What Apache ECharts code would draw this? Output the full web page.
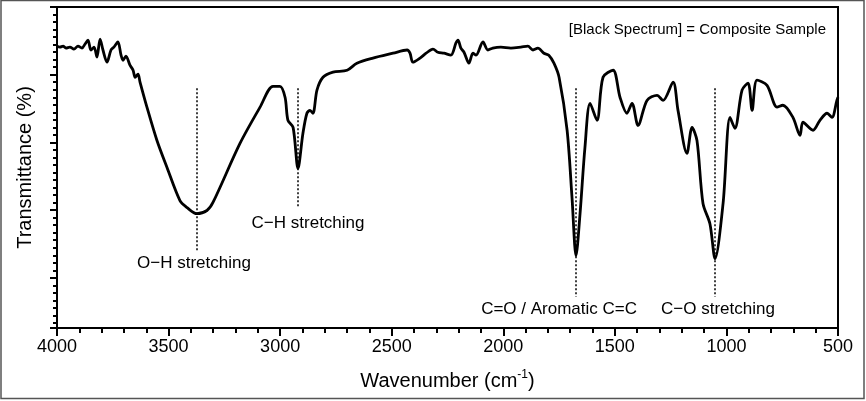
<!DOCTYPE html>
<html>
<head>
<meta charset="utf-8">
<script src="https://cdn.jsdelivr.net/npm/echarts@6/dist/echarts.min.js"></script>
<style>
  html, body { margin: 0; padding: 0; background: #fff; }
  #chart { width: 866px; height: 401px; }
</style>
</head>
<body>
<div id="chart"></div>
<script>
// wavenumber (cm-1)
var wavenumber = [4000,3987,3973,3960,3942,3924,3906,3888,3875,3861,3848,3834,3821,3807,3794,3776,3758,3745,3727,3713,3704,3691,3673,3659,3650,3637,3628,
  3597,3552,3507,3449,3417,3373,3328,3301,3180,3090,3032,3001,2978,2965,2942,2920,2898,2880,2866,2853,2835,2808,2763,2700,2656,2584,2494,2431,2418,2405,2373,2346,
  2315,2293,2266,2235,2212,2203,2190,2176,2154,2136,2122,2091,2069,2047,2011,1966,1921,1890,1867,1845,1818,1796,1773,1750,
  1714,1692,1674,1656,1634,1611,1580,1553,1508,1477,1446,1423,1396,1356,1311,1284,
  1239,1217,1177,1154,1132,1105,1074,1051,1015,984,962,930,903,885,863,818,773,747,702,670,657,612,581,549,527,505,500];
// transmittance (arbitrary %, 0 = bottom of plot, 100 = top)
var transmittance = [87.8,87.5,87.8,87.2,87.5,86.9,87.8,87.2,88.4,89.7,86.6,87.5,84.4,90,86.6,82.8,86.6,87.5,89.1,85,83.4,84.7,81.9,80.3,78.1,79.1,76.6,
  68.8,58.4,50,39.7,37.5,35.6,36.6,39.1,57.5,68.8,75.3,75.3,71.9,64.7,62.5,49.7,60.6,66.9,67.8,66.9,74.1,78.1,79.7,80.3,82.5,84.1,85.6,86.6,85.6,82.8,84.1,85.6,
  86.9,85.9,85.6,85,88.8,89.7,87.2,85.9,82.5,85.6,85,89.1,86.6,87.2,87.5,87.2,87.5,87.8,86.6,87.2,85.6,85,82.5,78.1,
  61.6,40.6,22.5,35.6,56.3,70,64.7,78.1,80.3,71.9,66.9,70,63.1,70.9,72.5,70.9,
  76.6,67.8,54.4,62.5,58.4,38.8,32.5,21.6,38.8,65.6,62.2,74.1,76.3,67.8,77.2,75.6,68.8,69.4,65.6,60,64.1,61.6,64.7,66.9,65.6,70.9,71.9];

// band annotations
var bandWn     = [3373, 2920, 1674, 1051];
var bandTop    = [74.7, 74.7, 74.7, 74.7];
var bandBottom = [24.1, 37.5, 9.7, 9.7];
var labelText  = ['O\u2212H stretching', 'C\u2212H stretching', 'C=O / Aromatic C=C', 'C\u2212O stretching'];
var labelWn    = [3386, 2875, 1750, 1038];
var labelT     = [20, 32.5, 5.9, 5.9];

var FONT = '"Liberation Sans", Arial, sans-serif';

var lineData = wavenumber.map(function (w, i) { return [w, transmittance[i]]; });
var markData = bandWn.map(function (w, i) {
  return [{ coord: [w, bandTop[i]] }, { coord: [w, bandBottom[i]] }];
});
var labelData = labelWn.map(function (w, i) { return [w, labelT[i]]; });

var chart = echarts.init(document.getElementById('chart'));

var option = {
  animation: false,
  backgroundColor: '#fff',
  textStyle: { fontFamily: FONT },
  title: {
    text: '[Black Spectrum] = Composite Sample',
    right: 35,
    top: 17,
    textStyle: { fontSize: 15, fontWeight: 'normal', color: '#000', fontFamily: FONT }
  },
  graphic: [{
    type: 'rect',
    shape: { x: 1, y: 0.5, width: 863, height: 398 },
    style: { fill: 'none', stroke: '#555', lineWidth: 1.5 },
    silent: true
  }],
  grid: { left: 57, right: 28, top: 7, bottom: 73, show: true, borderColor: '#000', borderWidth: 2 },
  xAxis: {
    type: 'value',
    min: 500,
    max: 4000,
    interval: 500,
    inverse: true,
    name: '{a|Wavenumber (cm}{s|-1}{a|)}',
    nameLocation: 'middle',
    nameGap: 41,
    nameTextStyle: {
      rich: {
        a: { fontSize: 20, color: '#000', fontFamily: FONT, lineHeight: 24 },
        s: { fontSize: 12, color: '#000', fontFamily: FONT, verticalAlign: 'top', lineHeight: 24, padding: [0, 0, 10, 0] }
      }
    },
    axisLine: { lineStyle: { color: '#000', width: 2 } },
    axisTick: { length: 8, lineStyle: { color: '#000', width: 2 } },
    minorTick: { show: true, splitNumber: 5, length: 5, lineStyle: { color: '#000', width: 2 } },
    axisLabel: {
      fontSize: 18, color: '#000', margin: 10, fontFamily: FONT,
      formatter: function (v) { return String(v); }
    },
    splitLine: { show: false },
    minorSplitLine: { show: false }
  },
  yAxis: [{
    type: 'value',
    min: 0,
    max: 100,
    name: 'Transmittance (%)',
    nameLocation: 'middle',
    nameGap: 22,
    nameTextStyle: { fontSize: 20, color: '#000', fontFamily: FONT },
    axisLine: { show: true, lineStyle: { color: '#000', width: 2 } },
    axisTick: { show: false },
    axisLabel: { show: false },
    splitLine: { show: false }
  }, {
    // minor ticks on the left axis
    type: 'value',
    position: 'left',
    inverse: true,
    min: 0,
    max: 42.67,
    interval: 1,
    axisLine: { show: false },
    axisTick: { length: 4, lineStyle: { color: '#000', width: 2 } },
    axisLabel: { show: false },
    splitLine: { show: false }
  }, {
    // major ticks on the left axis
    type: 'value',
    position: 'left',
    inverse: true,
    min: 0,
    max: 42.67,
    interval: 9,
    axisLine: { show: false },
    axisTick: { length: 7, lineStyle: { color: '#000', width: 2 } },
    axisLabel: { show: false },
    splitLine: { show: false }
  }],
  series: [{
    type: 'line',
    data: lineData,
    showSymbol: false,
    smooth: 0.3,
    lineStyle: { color: '#000', width: 2.8 },
    markLine: {
      silent: true,
      symbol: 'none',
      label: { show: false },
      lineStyle: { color: '#000', type: [2, 2], width: 1.5 },
      data: markData
    }
  }, {
    type: 'scatter',
    data: labelData,
    symbolSize: 0,
    silent: true,
    itemStyle: { opacity: 1, color: '#000' },
    label: {
      show: true,
      position: 'inside',
      fontSize: 17,
      color: '#000',
      opacity: 1,
      fontFamily: FONT,
      formatter: function (p) { return labelText[p.dataIndex]; }
    }
  }]
};

chart.setOption(option);
</script>
</body>
</html>
